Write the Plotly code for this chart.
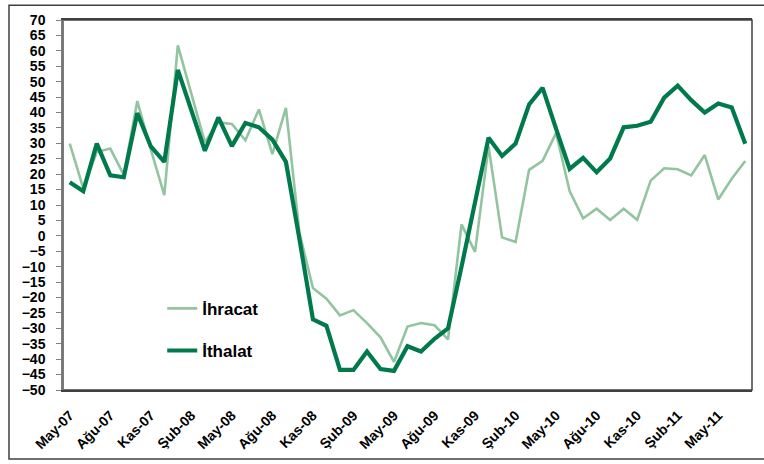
import plotly.graph_objects as go

months = ["May-07","Haz-07","Tem-07","Ağu-07","Eyl-07","Eki-07","Kas-07","Ara-07",
          "Oca-08","Şub-08","Mar-08","Nis-08","May-08","Haz-08","Tem-08","Ağu-08","Eyl-08","Eki-08","Kas-08","Ara-08",
          "Oca-09","Şub-09","Mar-09","Nis-09","May-09","Haz-09","Tem-09","Ağu-09","Eyl-09","Eki-09","Kas-09","Ara-09",
          "Oca-10","Şub-10","Mar-10","Nis-10","May-10","Haz-10","Tem-10","Ağu-10","Eyl-10","Eki-10","Kas-10","Ara-10",
          "Oca-11","Şub-11","Mar-11","Nis-11","May-11","Haz-11","Tem-11"]

ihracat = [29.9, 15.5, 27.2, 28.3, 19.8, 43.7, 28.0, 13.2,
           61.8, 46.4, 30.4, 36.8, 36.3, 31.0, 41.0, 26.5, 41.5, 1.0, -16.9, -20.4,
           -25.8, -24.1, -28.3, -32.9, -40.9, -29.4, -28.3, -29.0, -33.6, 3.7, -5.2, 29.0,
           -0.5, -2.0, 21.4, 24.3, 33.4, 14.5, 5.7, 8.8, 5.1, 8.8, 5.2, 17.9,
           21.9, 21.6, 19.6, 26.2, 11.8, 18.5, 24.3]

ithalat = [17.4, 14.5, 29.9, 19.6, 19.0, 39.8, 29.0, 24.0,
           53.8, 41.0, 27.6, 38.4, 29.1, 36.6, 35.2, 31.2, 24.0, -1.0, -27.1, -29.2,
           -43.5, -43.5, -37.5, -43.2, -43.8, -35.8, -37.5, -33.4, -30.0, -10.0, 11.0, 31.8,
           25.9, 29.9, 42.6, 48.0, 34.7, 21.7, 25.3, 20.6, 25.1, 35.2, 35.7, 37.0,
           44.8, 48.7, 44.0, 40.0, 42.9, 41.6, 29.9]

y_ticks = list(range(-50, 75, 5))

n = len(months)
xs = list(range(n))
label_idx = list(range(0, n, 3))
label_txt = [months[i] for i in label_idx]
boundary_ticks = [i - 0.5 for i in range(0, n + 1, 3)]

LIGHT = "#93C4A0"
DARK = "#007A4D"
FONT = "Liberation Sans, Arial, sans-serif"

fig = go.Figure()
fig.add_trace(go.Scatter(x=xs, y=ihracat, mode="lines", name="İhracat",
                         line=dict(color=LIGHT, width=2.6), legendgroup="a"))
fig.add_trace(go.Scatter(x=xs, y=ithalat, mode="lines", name="İthalat",
                         line=dict(color=DARK, width=4.2), legendgroup="b"))

ymin, ymax = -50, 70
fig.update_layout(
    width=764, height=464,
    margin=dict(l=63, r=12, t=16, b=72),
    paper_bgcolor="white", plot_bgcolor="white",
    font=dict(family=FONT, color="black"),
    showlegend=True,
    legend=dict(x=0.144, y=0.268, xanchor="left", yanchor="top",
                bgcolor="rgba(0,0,0,0)",
                font=dict(size=17, family=FONT, color="black", weight="bold"),
                traceorder="grouped", tracegroupgap=17, itemwidth=30),
    xaxis=dict(range=[-0.5, n - 0.5], tickmode="array", tickvals=label_idx, ticktext=label_txt,
               tickangle=-45, ticks="", showgrid=False, zeroline=False,
               showline=True, linecolor="#404040", linewidth=1.5, mirror=True,
               tickfont=dict(size=14, family=FONT, weight="bold"), ticklabelstandoff=10),
    xaxis2=dict(overlaying="x", anchor="free", position=(0 - ymin) / (ymax - ymin),
                range=[-0.5, n - 0.5], tickmode="array", tickvals=boundary_ticks,
                ticks="outside", ticklen=4, tickcolor="#808080", showticklabels=False,
                showline=True, linecolor="#808080", linewidth=1.5, showgrid=False, zeroline=False),
    yaxis=dict(range=[ymin, ymax], tickmode="array", tickvals=y_ticks,
               ticks="outside", ticklen=5, tickcolor="#808080", showgrid=False, zeroline=False,
               showline=True, linecolor="#808080", linewidth=1.5,
               tickfont=dict(size=14, family=FONT, weight="bold"), ticklabelstandoff=8),
)

# plot area box and outer frame
fig.add_shape(type="rect", xref="paper", yref="paper", x0=0, x1=1, y0=0, y1=1,
              line=dict(color="#404040", width=1.5), layer="above")
fig.add_shape(type="line", xref="paper", yref="paper", x0=0, x1=0, y0=0, y1=1,
              line=dict(color="#808080", width=1.5), layer="above")
fig.add_shape(type="rect", xref="paper", yref="paper",
              x0=(9 - 63) / 689, x1=1.05, y0=(392 - 462) / 376, y1=1 + (16 - 1) / 376,
              line=dict(color="#404040", width=1.5), layer="below")

fig.write_html("out.html", config={"displayModeBar": False},
               post_script="document.body.style.margin='0';document.body.style.overflow='hidden';")
